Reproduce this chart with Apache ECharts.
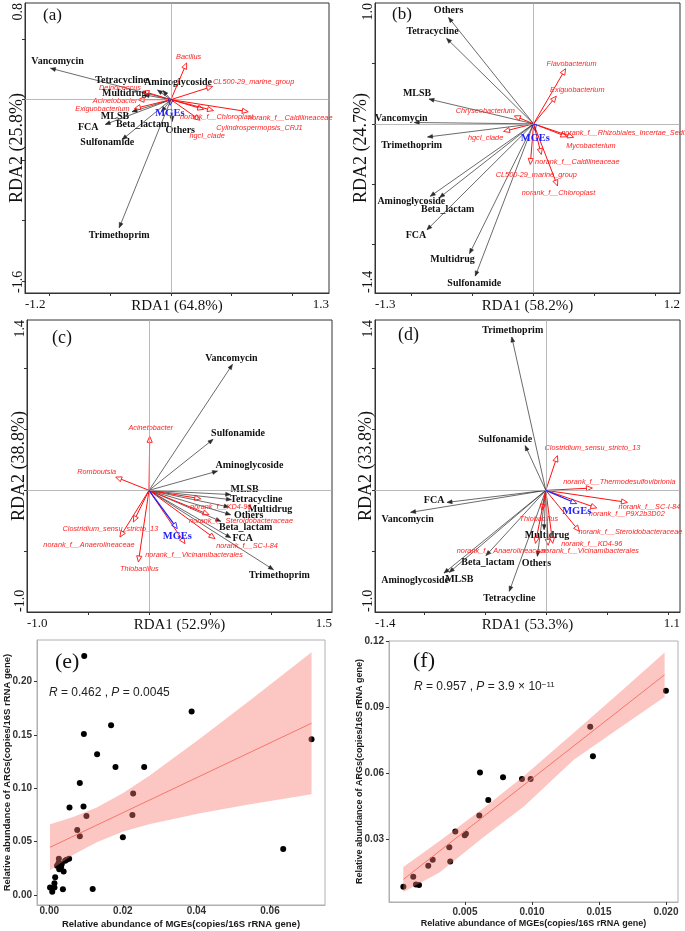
<!DOCTYPE html>
<html>
<head>
<meta charset="utf-8">
<title>RDA biplots and ARG-MGE correlation</title>
<script src="https://cdn.jsdelivr.net/npm/echarts@6.0.0/dist/echarts.min.js"></script>
<style>
  html, body { margin: 0; padding: 0; background: #fff; }
  #chart { width: 685px; height: 931px; }
</style>
</head>
<body>
<div id="chart"></div>
<script>
// ARG classes, same set in every RDA panel
var argNames = ['Vancomycin', 'Tetracycline', 'Aminoglycoside', 'Multidrug', 'MLSB',
                'FCA', 'Sulfonamide', 'Beta_lactam', 'Others', 'Trimethoprim'];

// panel (a)
var aArgRDA1 = [-0.99, -0.11, -0.065, -0.22, -0.32, -0.54, -0.40, -0.077, 0.011, -0.425];
var aArgRDA2 = [0.26, 0.08, 0.075, 0.04, -0.10, -0.205, -0.33, -0.10, -0.18, -1.06];
var aTaxa = ['Bacillus', 'CL500-29_marine_group', 'Deinococcus', 'Acinetobacter', 'Exiguobacterium',
             'norank_f__Chloroplast', 'norank_f__Caldilineaceae', 'Cylindrospermopsis_CRJ1', 'hgcI_clade'];
var aTaxaRDA1 = [0.129, 0.343, -0.23, -0.27, -0.30, 0.27, 0.636, 0.35, 0.24];
var aTaxaRDA2 = [0.304, 0.11, 0.07, 0.0, -0.074, -0.08, -0.10, -0.09, -0.17];
var aMGE = [-0.008, -0.046];

// panel (b)
var bArgRDA1 = [-0.978, -0.713, -0.847, -0.525, -0.857, -0.874, -0.478, -0.770, -0.697, -0.869];
var bArgRDA2 = [0.011, 0.707, -0.60, -1.074, 0.205, -0.877, -1.26, -0.61, 0.88, -0.109];
var bTaxa = ['Flavobacterium', 'Exiguobacterium', 'Chryseobacterium', 'hgcI_clade',
             'norank_f__Rhizobiales_Incertae_Sedis', 'Mycobacterium', 'norank_f__Caldilineaceae',
             'CL500-29_marine_group', 'norank_f__Chloroplast'];
var bTaxaRDA1 = [0.262, 0.186, -0.158, -0.246, 0.328, 0.273, 0.063, -0.027, 0.196];
var bTaxaRDA2 = [0.456, 0.229, 0.066, -0.063, -0.112, -0.107, -0.254, -0.336, -0.514];
var bMGE = [0.014, -0.057];

// panel (c)
var cArgRDA1 = [0.684, 0.675, 0.561, 0.656, 0.669, 0.670, 0.525, 0.588, 0.669, 1.02];
var cArgRDA2 = [1.035, -0.077, 0.158, -0.137, -0.035, -0.389, 0.419, -0.255, -0.20, -0.652];
var cTaxa = ['Acinetobacter', 'Romboutsia', 'Clostridium_sensu_stricto_13', 'norank_f__Anaerolineaceae',
             'Thiobacillus', 'norank_f__Vicinamibacterales', 'norank_f__SC-I-84',
             'norank_f__Steroidobacteraceae', 'norank_f__KD4-96'];
var cTaxaRDA1 = [0.006, -0.273, -0.128, -0.238, -0.087, 0.295, 0.541, 0.492, 0.424];
var cTaxaRDA2 = [0.444, 0.109, -0.26, -0.384, -0.589, -0.438, -0.397, -0.20, -0.069];
var cMGE = [0.232, -0.315];

// panel (d)
var dArgRDA1 = [-1.108, -0.299, -0.834, -0.014, -0.791, -0.809, -0.169, -0.49, -0.069, -0.279];
var dArgRDA2 = [-0.181, -0.83, -0.68, -0.323, -0.674, -0.099, 0.367, -0.536, -0.542, 1.26];
var dTaxa = ['Clostridium_sensu_stricto_13', 'norank_f__Thermodesulfovibrionia', 'norank_f__SC-I-84',
             'norank_f__P9X2b3D02', 'norank_f__Steroidobacteraceae', 'Thiobacillus',
             'norank_f__Anaerolineaceae', 'norank_f__KD4-96', 'norank_f__Vicinamibacterales'];
var dTaxaRDA1 = [0.095, 0.382, 0.669, 0.418, 0.275, -0.033, -0.085, 0.057, 0.019];
var dTaxaRDA2 = [0.285, 0.019, -0.099, -0.145, -0.337, -0.164, -0.436, -0.436, -0.452];
var dMGE = [0.254, -0.109];

// panel (e): relative abundance, copies / 16S rRNA gene
var eMGE = [0.0095, 0.0387, 0.0168, 0.0094, 0.0130, 0.0180, 0.0258, 0.0083, 0.0713, 0.0228,
            0.0055, 0.0093, 0.0101, 0.0226, 0.0076, 0.0083, 0.0200, 0.0636, 0.0026, 0.0054,
            0.0043, 0.0021, 0.0034, 0.0027, 0.0039, 0.0032, 0.0016, 0.0014, 0.0002, 0.0014,
            0.0008, 0.0037, 0.0118, 0.0047, 0.0025];
var eARG = [0.224, 0.172, 0.159, 0.151, 0.132, 0.120, 0.120, 0.105, 0.146, 0.095,
            0.082, 0.083, 0.074, 0.075, 0.061, 0.055, 0.054, 0.043, 0.034, 0.034,
            0.032, 0.0275, 0.029, 0.024, 0.022, 0.026, 0.0166, 0.011, 0.007, 0.007,
            0.003, 0.0053, 0.0056, 0.033, 0.030];
var eFitX = [0.0002, 0.0713];
var eFitY = [0.0447, 0.161];
var eBandX = [0.0002, 0.0065, 0.0129, 0.0201, 0.0274, 0.0410, 0.0546, 0.0713];
var eBandHi = [0.0663, 0.0730, 0.0819, 0.0956, 0.1122, 0.1466, 0.1825, 0.2275];
var eBandLo = [0.0231, 0.0377, 0.0494, 0.0594, 0.0666, 0.0766, 0.0850, 0.0944];

// panel (f)
var fMGE = [0.0200, 0.01435, 0.01455, 0.00612, 0.00784, 0.00925, 0.0099, 0.00674, 0.00607, 0.00428,
            0.00507, 0.00498, 0.00383, 0.0039, 0.00259, 0.00226, 0.00114, 0.00134, 0.00157, 0.0004];
var fARG = [0.0976, 0.0812, 0.0678, 0.0603, 0.0582, 0.0574, 0.0574, 0.0478, 0.0407, 0.0335,
            0.0324, 0.0317, 0.0263, 0.0198, 0.0206, 0.0178, 0.0128, 0.0093, 0.0091, 0.0083];
var fFitX = [0.0004, 0.0199];
var fFitY = [0.0116, 0.1049];
var fBandX = [0.0004, 0.0031, 0.0064, 0.0094, 0.0131, 0.0168, 0.0199];
var fBandHi = [0.0173, 0.0291, 0.0442, 0.0588, 0.0783, 0.0982, 0.1151];
var fBandLo = [0.0059, 0.0148, 0.0309, 0.0448, 0.0661, 0.0818, 0.0948];

// tick values
var eXTicks = [0, 0.02, 0.04, 0.06];
var eYTicks = [0, 0.05, 0.10, 0.15, 0.20];
var fXTicks = [0.005, 0.010, 0.015, 0.020];
var fYTicks = [0.03, 0.06, 0.09, 0.12];

// label placement (pixel offsets from arrow tips), layout only
var aArgOff = [[7, -7], [-36, -10], [15, -8], [-20, -1], [-17, 5], [-17, 3], [-15, 3], [-19, 13], [8, 9], [0, 8]];
var aTaxaOff = [[2, -6], [41, -4], [-23, -3], [-23, 1], [-32, 0], [13, 8], [42, 6], [46, 17], [7, 16]];
var bArgOff = [[-13, -4], [-14, -7], [-19, 5], [-17, 6], [-12, -6], [-11, 6], [-1, 7], [8, 12], [0, -7], [-16, 8]];
var bTaxaOff = [[6, -5], [21, -6], [-29, -5], [-18, 7], [51, -4], [24, 9], [36, 7], [6, 11], [1, 7]];
var cArgOff = [[-1, -6], [25, 0], [32, -6], [41, 2], [14, -5], [12, 1], [25, -6], [25, 6], [18, 1], [6, 6]];
var cTaxaOff = [[1, -8], [-19, -5], [-23, 7], [-31, 8], [1, 7], [9, 11], [32, 7], [32, 6], [20, 8]];
var dArgOff = [[-3, 7], [0, 7], [-29, 7], [3, 6], [10, 7], [-13, -2], [-20, -6], [2, 7], [-1, 7], [1, -7]];
var dTaxaOff = [[35, -8], [27, -6], [22, 5], [30, 6], [51, 1], [-3, 9], [-33, 8], [39, 1], [42, 6]];

var serif = '"Liberation Serif", "DejaVu Serif", serif';
var sans = '"Liberation Sans", Arial, sans-serif';

var argLook = { color: '#2b2b2b', width: 0.7, headLen: 5, headWidth: 2, hollow: false,
                textColor: '#111', font: 'bold 10px ' + serif };
var taxaLook = { color: '#ff1010', width: 1, headLen: 6, headWidth: 2.6, hollow: true,
                 textColor: '#ff2222', font: 'italic 7.3px ' + sans };
var mgeLook = { color: '#1f1fff', width: 1.3, headLen: 6, headWidth: 2.6, hollow: true,
                textColor: '#1f1fff', font: 'bold 10.5px ' + serif };

function zip(a, b) {
  return a.map(function (v, i) { return [v, b[i]]; });
}

function arrowRenderer(names, offsets, look) {
  return function (params, api) {
    var i = params.dataIndex;
    var o = api.coord([0, 0]);
    var p = api.coord([api.value(0), api.value(1)]);
    var dx = p[0] - o[0], dy = p[1] - o[1];
    var len = Math.sqrt(dx * dx + dy * dy) || 1;
    var ux = dx / len, uy = dy / len;
    var bx = p[0] - ux * look.headLen, by = p[1] - uy * look.headLen;
    var head = [[p[0], p[1]],
                [bx - uy * look.headWidth, by + ux * look.headWidth],
                [bx + uy * look.headWidth, by - ux * look.headWidth]];
    var end = look.hollow ? [bx, by] : p;
    var off = offsets[i];
    return {
      type: 'group',
      children: [
        { type: 'line', shape: { x1: o[0], y1: o[1], x2: end[0], y2: end[1] },
          style: { stroke: look.color, lineWidth: look.width } },
        { type: 'polygon', shape: { points: head },
          style: { fill: look.hollow ? 'rgba(255,255,255,0)' : look.color,
                   stroke: look.color, lineWidth: look.hollow ? 0.9 : 0.5 } },
        { type: 'text', x: p[0] + off[0], y: p[1] + off[1],
          style: { text: names[i], fill: look.textColor, font: look.font,
                   align: 'center', verticalAlign: 'middle',
                   textAlign: 'center', textVerticalAlign: 'middle' } }
      ]
    };
  };
}

function bandRenderer(xs, lo, hi) {
  return function (params, api) {
    var pts = [];
    for (var i = 0; i < xs.length; i++) pts.push(api.coord([xs[i], hi[i]]));
    for (var j = xs.length - 1; j >= 0; j--) pts.push(api.coord([xs[j], lo[j]]));
    return { type: 'polygon', shape: { points: pts },
             style: { fill: 'rgba(248,118,109,0.42)' } };
  };
}

var fmt1 = function (v) { return v.toFixed(1); };

var grids = [
  { left: 25, top: 1, width: 304, height: 292 },
  { left: 375, top: 1, width: 305, height: 292 },
  { left: 27, top: 320, width: 305, height: 292 },
  { left: 375, top: 320, width: 305, height: 292 },
  { left: 37, top: 640, width: 288, height: 265 },
  { left: 389, top: 641, width: 289, height: 261 }
];
grids.forEach(function (g, i) {
  g.show = true;
  g.containLabel = false;
  g.borderColor = i < 4 ? '#333' : '#b0b0b0';
  g.borderWidth = 1;
  g.backgroundColor = 'rgba(0,0,0,0)';
});

var xAxes = [], yAxes = [], series = [];

function rdaPanel(g, xr, yr, xName, yName, xTicks, yTicks, yGap, arg1, arg2, argOff,
                  taxa, t1, t2, taxaOff, mge) {
  xAxes.push({
    type: 'value', gridIndex: g, min: xr[0], max: xr[1],
    name: xName, nameLocation: 'middle', nameGap: 6, nameMoveOverlap: false,
    nameTextStyle: { fontFamily: serif, fontSize: 15, color: '#111' },
    axisLine: { onZero: false, lineStyle: { color: '#333', width: 1 } },
    axisTick: { customValues: xTicks, length: 3, lineStyle: { color: '#333' } },
    axisLabel: { customValues: xr, formatter: fmt1, fontFamily: serif, fontSize: 13,
                 color: '#111', margin: 5, alignMinLabel: 'left', alignMaxLabel: 'right' },
    splitLine: { show: false }
  });
  yAxes.push({
    type: 'value', gridIndex: g, min: yr[0], max: yr[1],
    name: yName, nameLocation: 'middle', nameGap: yGap, nameMoveOverlap: false,
    nameTextStyle: { fontFamily: serif, fontSize: 18, color: '#111' },
    axisLine: { onZero: false, lineStyle: { color: '#333', width: 1 } },
    axisTick: { customValues: yTicks, length: 3, lineStyle: { color: '#333' } },
    axisLabel: { customValues: yr, formatter: fmt1, fontFamily: serif, fontSize: 14,
                 color: '#111', margin: 0, rotate: 90,
                 alignMinLabel: 'left', alignMaxLabel: 'right' },
    splitLine: { show: false }
  });
  series.push({
    type: 'custom', xAxisIndex: g, yAxisIndex: g, z: 3,
    data: zip(arg1, arg2),
    renderItem: arrowRenderer(argNames, argOff, argLook),
    markLine: {
      silent: true, symbol: ['none', 'none'], label: { show: false },
      lineStyle: { color: '#a8a8a8', width: 0.8, type: 'solid' },
      data: [{ xAxis: 0 }, { yAxis: 0 }]
    }
  });
  series.push({
    type: 'custom', xAxisIndex: g, yAxisIndex: g, z: 4,
    data: zip(t1, t2),
    renderItem: arrowRenderer(taxa, taxaOff, taxaLook)
  });
  series.push({
    type: 'custom', xAxisIndex: g, yAxisIndex: g, z: 5,
    data: [mge],
    renderItem: arrowRenderer(['MGEs'], [[0, 8]], mgeLook)
  });
}

rdaPanel(0, [-1.2, 1.3], [-1.6, 0.8], 'RDA1 (64.8%)', 'RDA2 (25.8%)',
         [-1, -0.5, 0, 0.5, 1], [-1.5, -1, -0.5, 0, 0.5], -1,
         aArgRDA1, aArgRDA2, aArgOff, aTaxa, aTaxaRDA1, aTaxaRDA2, aTaxaOff, aMGE);
rdaPanel(1, [-1.3, 1.2], [-1.4, 1.0], 'RDA1 (58.2%)', 'RDA2 (24.7%)',
         [-1, -0.5, 0, 0.5, 1], [-1, -0.5, 0, 0.5], 5,
         bArgRDA1, bArgRDA2, bArgOff, bTaxa, bTaxaRDA1, bTaxaRDA2, bTaxaOff, bMGE);
rdaPanel(2, [-1.0, 1.5], [-1.0, 1.4], 'RDA1 (52.9%)', 'RDA2 (38.8%)',
         [-0.5, 0, 0.5, 1], [-0.5, 0, 0.5, 1], -1,
         cArgRDA1, cArgRDA2, cArgOff, cTaxa, cTaxaRDA1, cTaxaRDA2, cTaxaOff, cMGE);
rdaPanel(3, [-1.4, 1.1], [-1.0, 1.4], 'RDA1 (53.3%)', 'RDA2 (33.8%)',
         [-1, -0.5, 0, 0.5, 1], [-0.5, 0, 0.5, 1], 0,
         dArgRDA1, dArgRDA2, dArgOff, dTaxa, dTaxaRDA1, dTaxaRDA2, dTaxaOff, dMGE);

function scatterPanel(g, xr, yr, xTicks, yTicks, xDec, yDec, xGap, yGap, xMargin, nameSize,
                      mges, args, fitX, fitY, bandX, bandLo, bandHi) {
  xAxes.push({
    type: 'value', gridIndex: g, min: xr[0], max: xr[1],
    name: 'Relative abundance of MGEs(copies/16S rRNA gene)',
    nameLocation: 'middle', nameGap: xGap, nameMoveOverlap: false,
    nameTextStyle: { fontFamily: sans, fontWeight: 'bold', fontSize: nameSize, color: '#1a1a1a' },
    axisLine: { show: true, onZero: false, lineStyle: { color: '#b0b0b0', width: 1 } },
    axisTick: { customValues: xTicks, length: 3, lineStyle: { color: '#333' } },
    axisLabel: { customValues: xTicks, formatter: function (v) { return v.toFixed(xDec); },
                 fontFamily: sans, fontWeight: 'bold', fontSize: 10, color: '#333', margin: xMargin },
    splitLine: { show: false }
  });
  yAxes.push({
    type: 'value', gridIndex: g, min: yr[0], max: yr[1],
    name: 'Relative abundance of ARGs(copies/16S rRNA gene)',
    nameLocation: 'middle', nameGap: yGap, nameMoveOverlap: false,
    nameTextStyle: { fontFamily: sans, fontWeight: 'bold', fontSize: nameSize, color: '#1a1a1a' },
    axisLine: { show: true, onZero: false, lineStyle: { color: '#b0b0b0', width: 1 } },
    axisTick: { customValues: yTicks, length: 3, lineStyle: { color: '#333' } },
    axisLabel: { customValues: yTicks, formatter: function (v) { return v.toFixed(yDec); },
                 fontFamily: sans, fontWeight: 'bold', fontSize: 10, color: '#333', margin: 5 },
    splitLine: { show: false }
  });
  series.push({
    type: 'scatter', xAxisIndex: g, yAxisIndex: g, z: 2,
    symbolSize: 6, itemStyle: { color: '#000', opacity: 1 },
    data: zip(mges, args)
  });
  series.push({
    type: 'custom', xAxisIndex: g, yAxisIndex: g, z: 3,
    data: [[bandX[0], bandLo[0]]],
    renderItem: bandRenderer(bandX, bandLo, bandHi)
  });
  series.push({
    type: 'line', xAxisIndex: g, yAxisIndex: g, z: 4,
    symbol: 'none', lineStyle: { color: '#f8766d', width: 1 },
    data: zip(fitX, fitY)
  });
}

scatterPanel(4, [-0.00334, 0.07496], [-0.0094, 0.239], eXTicks, eYTicks, 2, 2, 14, 25, 1.5, 9.5,
             eMGE, eARG, eFitX, eFitY, eBandX, eBandLo, eBandHi);
scatterPanel(5, [-0.00067, 0.0209], [0.0013, 0.1203], fXTicks, fYTicks, 3, 2, 17, 25, 5, 9,
             fMGE, fARG, fFitX, fFitY, fBandX, fBandLo, fBandHi);

function letter(txt, x, y, size) {
  return { type: 'text', x: x, y: y, z: 10,
           style: { text: txt, font: size + 'px ' + serif, fill: '#111',
                    textAlign: 'left', textVerticalAlign: 'middle',
                    align: 'left', verticalAlign: 'middle' } };
}

var statRich = {
  i: { fontStyle: 'italic', fontFamily: sans, fontSize: 12, fill: '#222', color: '#222' },
  s: { fontFamily: sans, fontSize: 8, verticalAlign: 'top', fill: '#222', color: '#222' }
};

var chart = echarts.init(document.getElementById('chart'), null, { renderer: 'canvas' });
chart.setOption({
  animation: false,
  backgroundColor: '#fff',
  grid: grids,
  xAxis: xAxes,
  yAxis: yAxes,
  series: series,
  graphic: [
    letter('(a)', 43, 16, 17),
    letter('(b)', 392, 15, 17),
    letter('(c)', 52, 338, 18),
    letter('(d)', 398, 335, 18),
    letter('(e)', 55, 662, 22),
    letter('(f)', 413, 661, 22),
    { type: 'text', x: 49, y: 693, z: 10,
      style: { text: '{i|R} = 0.462 , {i|P} = 0.0045', fontFamily: sans, fontSize: 12,
               fill: '#222', rich: statRich,
               textAlign: 'left', textVerticalAlign: 'middle', align: 'left', verticalAlign: 'middle' } },
    { type: 'text', x: 414, y: 687, z: 10,
      style: { text: '{i|R} = 0.957 , {i|P} = 3.9 \u00d7 10{s|\u221211}', fontFamily: sans, fontSize: 12,
               fill: '#222', rich: statRich,
               textAlign: 'left', textVerticalAlign: 'middle', align: 'left', verticalAlign: 'middle' } }
  ]
});
</script>
</body>
</html>
